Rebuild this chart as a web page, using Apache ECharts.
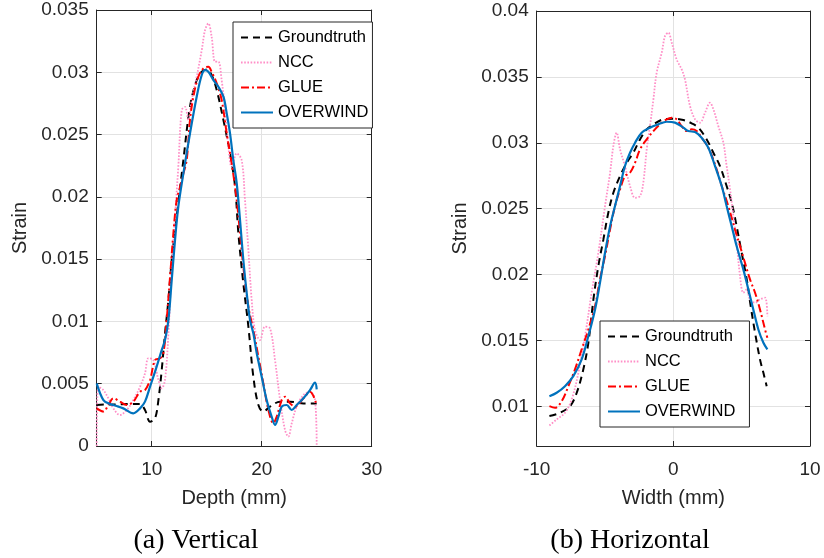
<!DOCTYPE html>
<html>
<head>
<meta charset="utf-8">
<script src="https://cdn.jsdelivr.net/npm/echarts@6/dist/echarts.min.js"></script>
<style>html,body{margin:0;padding:0;background:#fff}#c{width:824px;height:558px}</style>
</head>
<body>
<div id="c"></div>
<script>
// ---------- (a) Vertical ----------
var seriesNames = ['Groundtruth', 'NCC', 'GLUE', 'OVERWIND'];

var vGtX = [5.00, 5.91, 6.82, 7.73, 8.94, 9.39, 9.85, 10.30, 10.61, 10.91, 11.21, 11.52, 11.82, 12.27, 12.88, 13.48, 14.09, 14.55, 15.00, 15.45, 15.91, 16.52, 17.12, 17.58, 17.88, 18.33, 18.79, 19.24, 19.70, 20.15, 20.76, 21.67, 22.58, 23.79, 25.00];
var vGtY = [0.00329, 0.00334, 0.00334, 0.00337, 0.00337, 0.00289, 0.00195, 0.00222, 0.00369, 0.00610, 0.00904, 0.01172, 0.01493, 0.01841, 0.02295, 0.02723, 0.02937, 0.03004, 0.03023, 0.02978, 0.02857, 0.02616, 0.02349, 0.02081, 0.01707, 0.01306, 0.00958, 0.00556, 0.00329, 0.00276, 0.00316, 0.00356, 0.00356, 0.00342, 0.00342];

var vNccX = [5.00, 5.15, 5.61, 6.06, 6.52, 7.12, 7.73, 8.33, 8.94, 9.39, 9.70, 10.15, 10.61, 10.91, 11.21, 11.52, 11.82, 12.12, 12.42, 12.73, 13.03, 13.33, 13.64, 14.09, 14.55, 14.85, 15.15, 15.45, 15.76, 16.06, 16.36, 16.67, 16.97, 17.27, 17.73, 18.18, 18.48, 18.79, 19.09, 19.39, 19.85, 20.30, 20.76, 21.21, 21.67, 22.12, 22.42, 22.73, 23.18, 23.79, 24.39, 24.85, 25.00];
var vNccY = [0, 0.00476, 0.00449, 0.00383, 0.00302, 0.00249, 0.00289, 0.00369, 0.00476, 0.00583, 0.00704, 0.00690, 0.00530, 0.00463, 0.00530, 0.00904, 0.01439, 0.01841, 0.02242, 0.02697, 0.02723, 0.02616, 0.02777, 0.02964, 0.03178, 0.03339, 0.03392, 0.03285, 0.03085, 0.03085, 0.02937, 0.02697, 0.02402, 0.02242, 0.02349, 0.02295, 0.01974, 0.01573, 0.01172, 0.00931, 0.00851, 0.00958, 0.00944, 0.00690, 0.00369, 0.00128, 0.00075, 0.00182, 0.00316, 0.00409, 0.00436, 0.00369, 0];

var vGlueX = [5.00, 5.61, 6.06, 6.52, 7.12, 7.73, 8.33, 8.94, 9.39, 9.85, 10.30, 10.76, 11.06, 11.36, 11.67, 11.97, 12.27, 12.58, 12.88, 13.18, 13.48, 13.79, 14.24, 14.70, 15.15, 15.45, 15.91, 16.36, 16.82, 17.27, 17.73, 18.03, 18.33, 18.79, 19.24, 19.70, 20.15, 20.61, 21.06, 21.36, 21.82, 22.12, 22.58, 23.03, 23.79, 24.39, 25.00];
var vGlueY = [0.00302, 0.00276, 0.00329, 0.00383, 0.00356, 0.00329, 0.00356, 0.00436, 0.00449, 0.00530, 0.00690, 0.00704, 0.00744, 0.01011, 0.01359, 0.01707, 0.01974, 0.02081, 0.02188, 0.02295, 0.02616, 0.02804, 0.02964, 0.03031, 0.03044, 0.03004, 0.02911, 0.02777, 0.02509, 0.02269, 0.01974, 0.01707, 0.01439, 0.01118, 0.00931, 0.00717, 0.00503, 0.00289, 0.00182, 0.00235, 0.00369, 0.00396, 0.00342, 0.00316, 0.00383, 0.00436, 0.00329];

var vOwX = [5.00, 5.61, 6.21, 6.82, 7.42, 8.33, 8.94, 9.39, 9.85, 10.45, 10.91, 11.21, 11.52, 11.82, 12.12, 12.42, 12.88, 13.48, 14.09, 14.55, 14.85, 15.15, 15.61, 16.06, 16.52, 16.82, 17.12, 17.42, 17.73, 18.03, 18.33, 18.64, 18.94, 19.24, 19.55, 20.00, 20.45, 20.91, 21.21, 21.52, 21.82, 22.27, 22.73, 23.18, 23.79, 24.39, 24.85, 25.00];
var vOwY = [0.00503, 0.00369, 0.00337, 0.00321, 0.00302, 0.00262, 0.00302, 0.00356, 0.00476, 0.00637, 0.00770, 0.00851, 0.01011, 0.01332, 0.01653, 0.01921, 0.02188, 0.02509, 0.02804, 0.02978, 0.03018, 0.03004, 0.02937, 0.02884, 0.02804, 0.02670, 0.02509, 0.02295, 0.02108, 0.01814, 0.01493, 0.01225, 0.01011, 0.00904, 0.00744, 0.00556, 0.00369, 0.00235, 0.00169, 0.00235, 0.00316, 0.00329, 0.00289, 0.00329, 0.00383, 0.00449, 0.00508, 0.00455];

// ---------- (b) Horizontal ----------
var hGtX = [-9.07, -8.29, -7.56, -7.07, -6.59, -6.22, -5.85, -5.49, -5.12, -4.76, -4.39, -3.90, -3.41, -2.93, -2.44, -1.95, -1.46, -0.73, 0, 0.73, 1.34, 1.83, 2.44, 2.93, 3.41, 3.90, 4.27, 4.63, 5.00, 5.37, 5.66, 5.98, 6.34, 6.59, 6.83];
var hGtY = [0.00927, 0.00952, 0.01002, 0.01104, 0.01281, 0.01483, 0.01812, 0.02065, 0.02267, 0.02470, 0.02621, 0.02748, 0.02849, 0.02925, 0.03026, 0.03102, 0.03140, 0.03178, 0.03183, 0.03173, 0.03148, 0.03115, 0.03026, 0.02925, 0.02824, 0.02672, 0.02546, 0.02368, 0.02166, 0.01964, 0.01761, 0.01559, 0.01357, 0.01255, 0.01154];

var hNccX = [-9.07, -8.54, -7.93, -7.44, -6.95, -6.46, -5.98, -5.49, -5.00, -4.63, -4.39, -4.15, -3.90, -3.54, -3.17, -2.80, -2.44, -2.20, -1.95, -1.71, -1.46, -1.22, -0.85, -0.61, -0.37, -0.12, 0.24, 0.61, 0.85, 1.22, 1.59, 1.95, 2.32, 2.68, 2.93, 3.29, 3.66, 3.90, 4.15, 4.39, 4.63, 4.88, 5.12, 5.37, 5.61, 5.98, 6.34, 6.71, 6.88];
var hNccY = [0.00856, 0.00901, 0.00952, 0.01053, 0.01255, 0.01534, 0.01863, 0.02166, 0.02520, 0.02773, 0.02976, 0.03077, 0.02950, 0.02824, 0.02672, 0.02583, 0.02596, 0.02697, 0.02950, 0.03127, 0.03330, 0.03532, 0.03684, 0.03810, 0.03836, 0.03760, 0.03633, 0.03557, 0.03481, 0.03279, 0.03178, 0.03153, 0.03229, 0.03304, 0.03254, 0.03127, 0.03001, 0.02824, 0.02647, 0.02444, 0.02242, 0.01989, 0.01863, 0.01888, 0.01812, 0.01787, 0.01812, 0.01825, 0.01685];

var hGlueX = [-9.07, -8.66, -8.17, -7.68, -7.20, -6.71, -6.22, -5.73, -5.37, -5.00, -4.63, -4.27, -3.90, -3.54, -3.17, -2.80, -2.44, -1.95, -1.46, -0.98, -0.49, -0.12, 0.24, 0.61, 0.98, 1.34, 1.71, 2.07, 2.56, 3.05, 3.54, 4.02, 4.51, 4.88, 5.24, 5.61, 5.98, 6.34, 6.71, 6.88];
var hGlueY = [0.01002, 0.00990, 0.01040, 0.01154, 0.01281, 0.01433, 0.01584, 0.01761, 0.01964, 0.02141, 0.02343, 0.02520, 0.02647, 0.02748, 0.02773, 0.02849, 0.02950, 0.03026, 0.03089, 0.03140, 0.03178, 0.03191, 0.03178, 0.03127, 0.03089, 0.03102, 0.03089, 0.03039, 0.02963, 0.02836, 0.02672, 0.02520, 0.02343, 0.02217, 0.02090, 0.01964, 0.01863, 0.01736, 0.01584, 0.01521];

var hOwX = [-9.07, -8.54, -7.93, -7.32, -6.71, -6.22, -5.73, -5.37, -5.00, -4.63, -4.27, -3.90, -3.54, -3.17, -2.80, -2.32, -1.71, -1.10, -0.49, 0.12, 0.73, 1.10, 1.59, 2.07, 2.56, 3.05, 3.54, 3.90, 4.27, 4.63, 5.12, 5.49, 5.85, 6.22, 6.59, 6.88];
var hOwY = [0.01078, 0.01104, 0.01154, 0.01230, 0.01357, 0.01534, 0.01736, 0.01938, 0.02166, 0.02368, 0.02520, 0.02672, 0.02824, 0.02925, 0.03001, 0.03077, 0.03115, 0.03140, 0.03160, 0.03153, 0.03115, 0.03089, 0.03082, 0.03039, 0.02963, 0.02824, 0.02672, 0.02520, 0.02368, 0.02217, 0.02040, 0.01888, 0.01736, 0.01584, 0.01483, 0.01433];

// tick labels
var vXTicks = [10, 20, 30];
var vYTicks = [0, 0.005, 0.01, 0.015, 0.02, 0.025, 0.03, 0.035];
var hXTicks = [-10, 0, 10];
var hYTicks = [0.01, 0.015, 0.02, 0.025, 0.03, 0.035, 0.04];

var captions = ['(a) Vertical', '(b) Horizontal'];
var xNames = ['Depth (mm)', 'Width (mm)'];
var yName = 'Strain';

function zip(xs, ys) { return xs.map(function (x, i) { return [x, ys[i]]; }); }

var AX = '#262626';
var FONT = 'Liberation Sans';
var styles = [
  { color: '#000000', type: [7, 5], width: 2 },
  { color: '#ff8fc7', type: [1.6, 1.6], width: 1.8 },
  { color: '#ff0000', type: [8, 3, 2, 3], width: 2 },
  { color: '#0072bd', type: 'solid', width: 2.2 }
];
function fmt(v) { return String(parseFloat(v.toFixed(4))); }

function mainX(grid, min, max, ticks, name) {
  return {
    type: 'value', gridIndex: grid, min: min, max: max, position: 'bottom',
    axisLine: { show: true, onZero: false, lineStyle: { color: AX, width: 1 } },
    axisTick: { show: true, inside: true, length: 5, customValues: ticks, lineStyle: { color: AX } },
    axisLabel: { show: true, customValues: ticks, fontFamily: FONT, fontSize: 19, color: AX, margin: 14, formatter: fmt },
    splitLine: { show: true, lineStyle: { color: '#e2e2e2', width: 1 } },
    name: name, nameLocation: 'middle', nameGap: 42,
    nameTextStyle: { fontFamily: FONT, fontSize: 20, color: AX }
  };
}
function mirrorX(grid, min, max, ticks) {
  return {
    type: 'value', gridIndex: grid, min: min, max: max, position: 'top',
    axisLine: { show: true, onZero: false, lineStyle: { color: AX, width: 1 } },
    axisTick: { show: true, inside: true, length: 5, customValues: ticks, lineStyle: { color: AX } },
    axisLabel: { show: false }, splitLine: { show: false }
  };
}
function mainY(grid, min, max, ticks) {
  return {
    type: 'value', gridIndex: grid, min: min, max: max, position: 'left',
    axisLine: { show: true, onZero: false, lineStyle: { color: AX, width: 1 } },
    axisTick: { show: true, inside: true, length: 5, customValues: ticks, lineStyle: { color: AX } },
    axisLabel: { show: true, customValues: ticks, fontFamily: FONT, fontSize: 19, color: AX, margin: 8, formatter: fmt },
    splitLine: { show: true, lineStyle: { color: '#e2e2e2', width: 1 } },
    name: yName, nameLocation: 'middle', nameGap: 66, nameRotate: 90,
    nameTextStyle: { fontFamily: FONT, fontSize: 20, color: AX }
  };
}
function mirrorY(grid, min, max, ticks) {
  return {
    type: 'value', gridIndex: grid, min: min, max: max, position: 'right',
    axisLine: { show: true, onZero: false, lineStyle: { color: AX, width: 1 } },
    axisTick: { show: true, inside: true, length: 5, customValues: ticks, lineStyle: { color: AX } },
    axisLabel: { show: false }, splitLine: { show: false }
  };
}

var vData = [zip(vGtX, vGtY), zip(vNccX, vNccY), zip(vGlueX, vGlueY), zip(vOwX, vOwY)];
var hData = [zip(hGtX, hGtY), zip(hNccX, hNccY), zip(hGlueX, hGlueY), zip(hOwX, hOwY)];

var series = [];
[vData, hData].forEach(function (set, g) {
  set.forEach(function (d, i) {
    series.push({
      type: 'line', name: seriesNames[i], data: d,
      xAxisIndex: g * 2, yAxisIndex: g * 2,
      showSymbol: false, symbol: 'none', smooth: 0.35, clip: true,
      lineStyle: styles[i], itemStyle: { color: styles[i].color },
      z: 2 + (i === 3 ? 1 : 0)
    });
  });
});

function legend(left, top, pad) {
  return {
    orient: 'vertical', left: left, top: top, data: seriesNames,
    itemWidth: 32, itemHeight: 14, itemGap: 8, padding: pad,
    backgroundColor: '#ffffff', borderColor: AX, borderWidth: 1, borderRadius: 0,
    textStyle: { fontFamily: FONT, fontSize: 16.5, color: '#000' },
    itemStyle: { opacity: 0, borderWidth: 0 },
    selectedMode: false
  };
}

var chart = echarts.init(document.getElementById('c'), null, { renderer: 'canvas' });
chart.setOption({
  animation: false,
  backgroundColor: '#ffffff',
  grid: [
    { left: 96.7, right: 452.3, top: 10, bottom: 112, containLabel: false },
    { left: 536.7, right: 14, top: 11, bottom: 112, containLabel: false }
  ],
  xAxis: [
    mainX(0, 5, 30, vXTicks, xNames[0]), mirrorX(0, 5, 30, vXTicks),
    mainX(1, -10, 10, hXTicks, xNames[1]), mirrorX(1, -10, 10, hXTicks)
  ],
  yAxis: [
    mainY(0, 0, 0.035, vYTicks), mirrorY(0, 0, 0.035, vYTicks),
    mainY(1, 0.007, 0.04, hYTicks), mirrorY(1, 0.007, 0.04, hYTicks)
  ],
  legend: [legend(233, 22, [7, 4, 7, 7]), legend(600, 321, [7, 14, 7, 7])],
  series: series,
  graphic: [
    { type: 'text', x: 196, y: 541, style: { text: captions[0], fontFamily: 'Liberation Serif', fontSize: 28, fill: '#000', textAlign: 'center', textVerticalAlign: 'middle' } },
    { type: 'text', x: 630, y: 541, style: { text: captions[1], fontFamily: 'Liberation Serif', fontSize: 28, fill: '#000', textAlign: 'center', textVerticalAlign: 'middle' } }
  ]
});
</script>
</body>
</html>
